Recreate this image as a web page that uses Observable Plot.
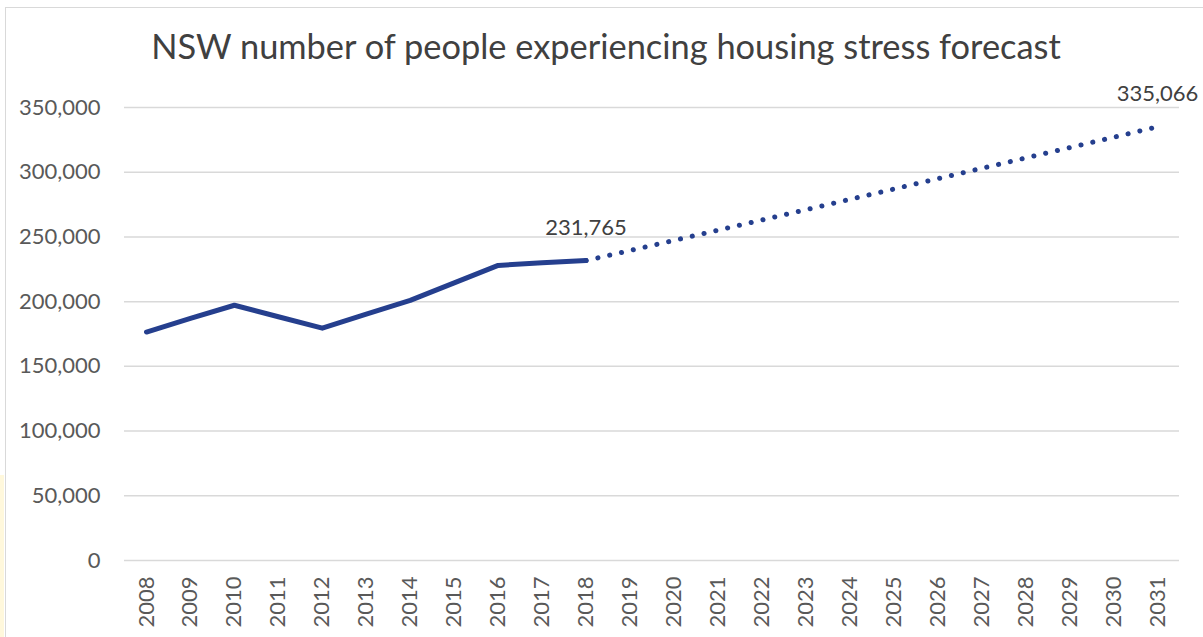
<!DOCTYPE html>
<html>
<head>
<meta charset="utf-8">
<script src="https://cdn.jsdelivr.net/npm/d3@7"></script>
<script src="https://cdn.jsdelivr.net/npm/@observablehq/plot@0.6"></script>
<style>
  html, body { margin: 0; padding: 0; background: #fff; }
  #wrap { position: relative; width: 1203px; height: 637px; overflow: hidden; background: #fff; }
  #strip { position: absolute; left: 0; top: 475px; width: 4px; height: 162px; background: #fff8dc; }
  #frame { position: absolute; left: 5px; top: 7px; width: 1220px; height: 660px; border: 1.5px solid #d9d9d9; box-sizing: border-box; }
  #title { position: absolute; left: 0; width: 1212px; top: 25px; text-align: center; font-family: Lato, "Open Sans", sans-serif; font-size: 34.4px; color: #404040; white-space: nowrap; }
  #chart { position: absolute; left: 0; top: 0; }
</style>
</head>
<body>
<div id="wrap">
  <div id="strip"></div>
  <div id="frame"></div>
  <div id="chart"></div>
  <div id="title">NSW number of people experiencing housing stress forecast</div>
</div>
<script>
const years = [2008,2009,2010,2011,2012,2013,2014,2015,2016,2017,2018,2019,2020,2021,2022,2023,2024,2025,2026,2027,2028,2029,2030,2031];
const actualYears = [2008,2009,2010,2011,2012,2013,2014,2015,2016,2017,2018];
const actualValues = [176500, 187000, 197200, 188300, 179500, 190300, 201000, 214500, 228000, 230000, 231765];
const forecastYears = [2018,2019,2020,2021,2022,2023,2024,2025,2026,2027,2028,2029,2030,2031];
const forecastValues = [231765, 239500, 247300, 255200, 263100, 271000, 279000, 287000, 295000, 303000, 311000, 319000, 327000, 335066];
const yTicks = [0, 50000, 100000, 150000, 200000, 250000, 300000, 350000];
const labelYears = [2018, 2031];
const labelValues = [231765, 335066];

const actual = actualYears.map((y, i) => ({year: y, value: actualValues[i]}));
const forecast = forecastYears.map((y, i) => ({year: y, value: forecastValues[i]}));
const labels = labelYears.map((y, i) => ({year: y, value: labelValues[i]}));

const fmt = d3.format(",");
const blue = "#253f8e";

const plot = Plot.plot({
  width: 1203,
  height: 637,
  marginLeft: 124,
  marginRight: 24,
  marginTop: 107,
  marginBottom: 77,
  style: { fontFamily: "Lato, 'Open Sans', sans-serif", fontSize: "22px", color: "#595959", background: "transparent" },
  x: { type: "linear", domain: [2007.5, 2031.5], label: null },
  y: { domain: [0, 350000], label: null },
  marks: [
    Plot.ruleY(yTicks, { stroke: "#d9d9d9", strokeWidth: 1.5 }),
    Plot.axisY({ ticks: yTicks, tickFormat: fmt, tickSize: 0, tickPadding: 24, label: null, fill: "#595959" }),
    Plot.axisX({ ticks: years, tickFormat: d => String(d), tickSize: 0, tickPadding: 16, tickRotate: -90, label: null, fill: "#595959" }),
    Plot.line(forecast, { x: "year", y: "value", stroke: blue, strokeWidth: 5, strokeDasharray: "0.1,12", strokeLinecap: "round" }),
    Plot.line(actual, { x: "year", y: "value", stroke: blue, strokeWidth: 5, strokeLinecap: "round", strokeLinejoin: "round" }),
    Plot.text(labels, { x: "year", y: "value", text: d => fmt(d.value), dy: -33, fill: "#404040", fontSize: 22 })
  ]
});
document.getElementById("chart").appendChild(plot);
</script>
</body>
</html>
